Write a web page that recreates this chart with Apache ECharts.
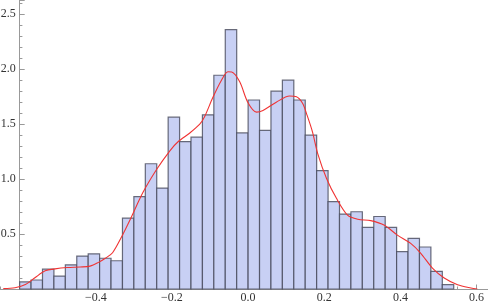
<!DOCTYPE html>
<html>
<head>
<meta charset="utf-8">
<script src="https://cdn.jsdelivr.net/npm/echarts@6/dist/echarts.min.js"></script>
<style>html,body{margin:0;padding:0;background:#fff}#c{width:488px;height:305px}</style>
</head>
<body>
<div id="c"></div>
<script>
// Histogram bins (left edges) and densities
const binLefts = [-0.60,-0.57,-0.54,-0.51,-0.48,-0.45,-0.42,-0.39,-0.36,-0.33,-0.30,-0.27,-0.24,-0.21,-0.18,-0.15,-0.12,-0.09,-0.06,-0.03,
                  0.00,0.03,0.06,0.09,0.12,0.15,0.18,0.21,0.24,0.27,0.30,0.33,0.36,0.39,0.42,0.45,0.48,0.51];
const binWidth = 0.03;
const densities = [0.064,0.082,0.18,0.118,0.22,0.30,0.32,0.28,0.257,0.645,0.84,1.14,0.918,1.564,1.342,1.382,1.585,1.945,2.36,1.42,
                   1.72,1.443,1.80,1.90,1.72,1.40,1.078,0.796,0.682,0.703,0.56,0.66,0.56,0.34,0.46,0.382,0.16,0.039];
// Smooth density curve
const curveX = [-0.643,-0.612,-0.585,-0.559,-0.533,-0.507,-0.475,-0.441,-0.415,-0.394,-0.375,-0.356,-0.330,-0.310,-0.276,-0.240,-0.205,-0.184,-0.153,-0.127,-0.114,-0.093,-0.070,-0.053,-0.043,-0.022,-0.001,
                0.022,0.039,0.074,0.109,0.127,0.143,0.155,0.169,0.183,0.206,0.232,0.261,0.288,0.322,0.358,0.392,0.427,0.453,0.484,0.515,0.550,0.585,0.602];
const curveY = [0.003,0.012,0.04,0.105,0.165,0.183,0.195,0.200,0.208,0.24,0.28,0.33,0.49,0.63,0.88,1.09,1.26,1.34,1.42,1.50,1.57,1.74,1.90,1.977,1.975,1.885,1.70,
                1.61,1.625,1.70,1.756,1.75,1.69,1.58,1.43,1.23,1.006,0.825,0.673,0.635,0.622,0.58,0.49,0.415,0.327,0.19,0.10,0.039,0.009,0.0];
const xTickLabels = ['−0.4','−0.2','0.0','0.2','0.4','0.6'];
const yTickLabels = ['0.5','1.0','1.5','2.0','2.5'];

const barData = binLefts.map((l,i)=>[l, l+binWidth, densities[i]]);
const lineData = curveX.map((x,i)=>[x, curveY[i]]);

const font = '"Liberation Serif","DejaVu Serif",serif';
const axisGray = '#999999';
const chart = echarts.init(document.getElementById('c'), null, {renderer:'canvas'});
function fmt(v){ return v < 0 ? '−' + Math.abs(v).toFixed(1) : v.toFixed(1); }
chart.setOption({
  animation:false,
  grid:{left:-56.5, right:0, top:0, bottom:16, containLabel:false, outerBoundsMode:'none'},
  xAxis:{type:'value', min:-0.8, max:0.63, interval:0.2,
    axisLine:{show:true, onZero:false, lineStyle:{color:axisGray, width:1}},
    axisTick:{show:true, inside:true, length:4.5, lineStyle:{color:axisGray}},
    minorTick:{show:true, splitNumber:4, length:2.5, lineStyle:{color:axisGray}},
    splitLine:{show:false},
    axisLabel:{margin:3, color:'#333', fontFamily:font, fontSize:12,
      formatter:function(v){ const s=fmt(v); return xTickLabels.indexOf(s)>=0 ? s : ''; }}
  },
  yAxis:{type:'value', min:0, max:2.63, interval:0.5, offset:-76.2,
    axisLine:{show:true, onZero:false, lineStyle:{color:axisGray, width:1}},
    axisTick:{show:true, inside:true, length:5, lineStyle:{color:axisGray}},
    minorTick:{show:true, splitNumber:5, length:2.7, lineStyle:{color:axisGray}},
    splitLine:{show:false},
    axisLabel:{margin:4, color:'#333', fontFamily:font, fontSize:12,
      formatter:function(v){ const s=v.toFixed(1); return yTickLabels.indexOf(s)>=0 ? s : ''; }}
  },
  series:[
    {type:'custom', data:barData, z:2,
      renderItem:function(params, api){
        const p0 = api.coord([api.value(0), api.value(2)]);
        const p1 = api.coord([api.value(1), 0]);
        return {type:'rect', shape:{x:p0[0], y:p0[1], width:p1[0]-p0[0], height:p1[1]-p0[1]},
          style:{fill:'#c8d0f4', stroke:'rgba(70,72,90,0.8)', lineWidth:1.2}};
      }
    },
    {type:'line', data:lineData, z:5, smooth:0.3, showSymbol:false, symbol:'none',
      lineStyle:{color:'#f03333', width:1.1}}
  ]
});
</script>
</body>
</html>
